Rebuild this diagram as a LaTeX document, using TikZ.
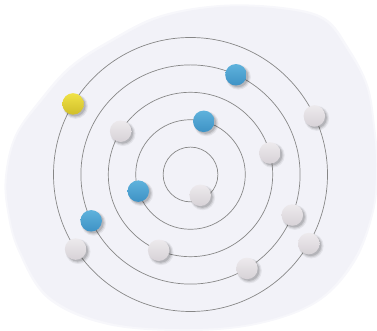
\documentclass[tikz,border=0pt]{standalone}
\usepackage{tikz}
\usetikzlibrary{calc}
\usepackage{xcolor}

\definecolor{bgblob}{RGB}{242,242,248}
\definecolor{orbitline}{RGB}{135,135,135}
\definecolor{bluelight}{RGB}{95,178,220}
\definecolor{bluedark}{RGB}{62,146,197}
\definecolor{greylight}{RGB}{237,234,237}
\definecolor{greydark}{RGB}{215,210,215}
\definecolor{yellowlight}{RGB}{240,226,70}
\definecolor{yellowdark}{RGB}{208,190,42}

\tikzset{
  orbit/.style={draw=orbitline, line width=0.7pt},
  ball/.style={circle, minimum size=21.5pt, inner sep=0pt, shading=axis, shading angle=135},
  bluepin/.style={ball, top color=bluelight, bottom color=bluedark},
  greypin/.style={ball, top color=greylight, bottom color=greydark},
  yellowpin/.style={ball, top color=yellowlight, bottom color=yellowdark}
}

\begin{document}
\begin{tikzpicture}[x=1pt, y=1pt]
  \useasboundingbox (0,0) rectangle (377,331);
  % soft background blob
  \fill[bgblob!60] plot[smooth cycle, tension=0.6] coordinates {
    (220,326) (282,324) (325,313) (349,283) (368,246) (375,205) (378,165)
    (374,120) (355,69) (318,29) (260,7) (190,0) (108,6) (48,32) (18,80)
    (7,120) (5,155) (15,196) (41,233) (70,265) (108,290) (158,315)};
  \fill[bgblob] plot[smooth cycle, tension=0.6] coordinates {
    (220,324) (280,322) (323,311) (347,281) (366,245) (373,205) (376,165)
    (372,120) (353,71) (317,31) (260,9) (190,2) (110,8) (50,34) (20,81)
    (9,120) (7,155) (17,195) (43,231) (72,263) (110,288) (160,313)};
  % orbits
  \coordinate (c) at (190.5,156.5);
  \foreach \r in {1,...,5}
    \draw[orbit] (c) circle (27.4*\r);
  % pins on the orbits
  \foreach \ang/\rad/\kind [count=\i] in {
      149/137/yellowpin, 65.5/109.6/bluepin, 25.3/137/greypin,
      76/54.8/bluepin, 148.2/82.2/greypin, 15.2/82.2/greypin,
      -65/23/greypin, 197.7/54.8/bluepin, -21.7/109.6/greypin,
      205/109.6/bluepin, 213/137/greypin, 247.2/82.2/greypin,
      -30.3/137/greypin, -59/109.6/greypin} {
    \coordinate (p\i) at ($(c)+(\ang:\rad)$);
    \fill[black, opacity=0.06] ($(p\i)+(2.4,-2.4)$) circle (12.5);
    \fill[black, opacity=0.09] ($(p\i)+(2.2,-2.2)$) circle (11.5);
    \fill[black, opacity=0.12] ($(p\i)+(2,-2)$) circle (10.5);
    \node[\kind] (pin\i) at (p\i) {};
  }
\end{tikzpicture}
\end{document}
